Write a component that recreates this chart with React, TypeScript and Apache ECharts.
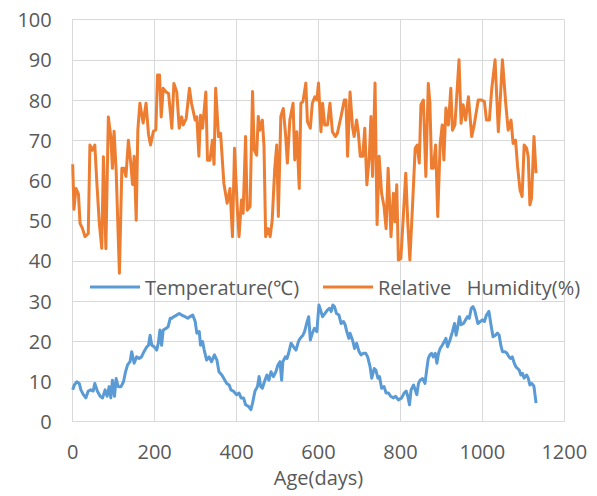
import React, { useEffect, useRef } from "react";
import * as echarts from "echarts";

const xTicks = [0, 200, 400, 600, 800, 1000, 1200];
const tempName = "Temperature(℃)";
const humName = "Relative   Humidity(%)";

const tempDays = [
  0, 4, 10, 16, 20, 26, 32, 38, 44, 50, 54, 60, 67, 73, 79, 84, 89, 93, 97, 102,
  106, 111, 118, 124, 129, 134, 140, 144, 150, 156, 162, 168, 174, 181, 185, 189,
  193, 199, 205, 209, 213, 217, 221, 228, 233, 238, 242, 247, 254, 260, 266, 274,
  281, 286, 293, 299, 303, 309, 312, 317, 321, 327, 333, 339, 346, 352, 357, 364,
  369, 376, 382, 386, 392, 400, 406, 411, 417, 422, 429, 435, 439, 445, 451, 455,
  459, 463, 468, 474, 479, 484, 490, 496, 501, 506, 510, 513, 519, 523, 527, 533,
  539, 545, 551, 555, 562, 566, 571, 576, 580, 585, 590, 596, 601, 606, 610, 616,
  622, 627, 631, 635, 639, 644, 650, 655, 661, 665, 669, 674, 677, 683, 688, 693,
  699, 704, 710, 715, 720, 726, 730, 736, 740, 745, 749, 754, 760, 765, 771, 776,
  783, 788, 795, 803, 809, 814, 818, 822, 826, 832, 836, 840, 844, 848, 854, 860,
  864, 868, 872, 876, 880, 885, 889, 893, 897, 902, 907, 911, 915, 921, 927, 932,
  936, 940, 944, 948, 954, 959, 964, 968, 973, 977, 981, 985, 989, 995, 1000, 1005,
  1010, 1016, 1021, 1026, 1032, 1037, 1041, 1045, 1049, 1055, 1060, 1065, 1069,
  1073, 1078, 1082, 1086, 1090, 1094, 1098, 1102, 1108, 1112, 1116, 1120, 1124,
  1126, 1131,
];
const tempValues = [
  7.9, 9.1, 9.9, 9.5, 7.9, 6.7, 5.9, 7.6, 7.9, 7.6, 9.5, 7.6, 6.3, 5.9, 7.9, 6.3,
  8.7, 5.9, 10.3, 6.3, 10.7, 8.7, 8.7, 9.9, 12.4, 14.1, 14.9, 17.4, 14.5, 16.1,
  15.7, 16.1, 17.4, 18.6, 19.0, 21.5, 19.0, 18.6, 17.8, 19.5, 22.8, 19.0, 22.8,
  23.2, 23.6, 25.7, 25.7, 26.1, 26.5, 26.9, 26.5, 26.1, 25.7, 26.1, 26.5, 24.9,
  22.0, 22.4, 19.0, 19.9, 17.8, 15.3, 16.1, 14.9, 16.6, 15.3, 12.4, 11.6, 10.7,
  9.5, 9.1, 7.9, 7.6, 6.7, 7.1, 5.9, 5.9, 4.2, 3.8, 3.0, 4.6, 7.6, 8.7, 11.2, 8.7,
  8.3, 9.9, 11.6, 10.3, 12.4, 11.2, 12.4, 14.1, 14.9, 10.3, 14.9, 16.1, 15.7, 17.0,
  19.5, 18.6, 17.8, 19.9, 20.7, 21.5, 22.4, 24.4, 26.1, 20.3, 22.0, 23.2, 22.4,
  29.0, 27.4, 26.1, 26.9, 27.8, 28.2, 27.4, 29.0, 28.6, 26.9, 26.5, 24.4, 24.9,
  24.1, 22.4, 20.7, 22.0, 20.3, 18.2, 19.5, 17.4, 16.6, 17.0, 17.0, 16.1, 13.6,
  10.8, 13.2, 12.8, 10.8, 11.2, 8.3, 8.7, 7.1, 7.1, 6.3, 5.9, 6.3, 5.4, 5.9, 7.1,
  7.6, 6.3, 4.2, 7.9, 9.1, 7.9, 6.7, 9.5, 10.3, 10.7, 9.5, 12.8, 15.7, 16.6, 17.0,
  16.1, 17.0, 14.5, 17.0, 18.2, 19.0, 19.9, 20.7, 18.6, 20.3, 22.4, 24.4, 21.5,
  23.6, 26.1, 24.1, 24.4, 25.3, 26.1, 25.7, 28.2, 28.6, 27.8, 26.1, 24.4, 24.9,
  25.3, 24.9, 26.5, 27.4, 24.1, 21.1, 21.5, 22.0, 21.5, 19.0, 17.4, 17.4, 17.0,
  16.1, 15.7, 16.1, 14.5, 13.6, 13.2, 12.8, 11.6, 12.0, 10.8, 11.6, 10.8, 9.1, 9.5,
  9.1, 8.7, 4.6,
];

const humDays = [
  0, 3, 8, 14, 18, 24, 30, 38, 42, 48, 54, 59, 65, 71, 75, 81, 87, 93, 97, 101,
  106, 114, 120, 125, 130, 136, 142, 146, 150, 155, 159, 164, 172, 179, 185, 190,
  197, 203, 207, 212, 216, 221, 228, 234, 242, 247, 254, 260, 266, 270, 277, 285,
  290, 299, 303, 308, 312, 317, 325, 329, 335, 341, 345, 349, 356, 361, 369, 377,
  384, 390, 395, 402, 406, 412, 416, 422, 426, 433, 439, 443, 449, 453, 457, 463,
  467, 471, 477, 482, 487, 493, 498, 502, 508, 514, 520, 524, 530, 538, 542, 547,
  553, 557, 562, 569, 573, 580, 585, 591, 596, 600, 606, 610, 615, 622, 628, 634,
  641, 646, 655, 663, 667, 671, 677, 683, 687, 693, 697, 702, 708, 713, 718, 724,
  728, 732, 738, 743, 748, 754, 760, 765, 770, 777, 783, 787, 791, 795, 801, 807,
  813, 818, 823, 829, 836, 841, 846, 850, 856, 862, 868, 872, 876, 880, 886, 891,
  897, 902, 906, 911, 917, 923, 927, 933, 943, 948, 953, 959, 966, 974, 980, 990,
  998, 1005, 1010, 1017, 1023, 1031, 1039, 1045, 1049, 1057, 1063, 1070, 1075,
  1081, 1086, 1092, 1097, 1102, 1108, 1112, 1116, 1120, 1126, 1131,
];
const humValues = [
  64.0, 52.8, 58.0, 56.6, 49.3, 48.0, 46.0, 46.8, 68.8, 67.5, 68.8, 59.3, 49.3,
  43.1, 65.9, 43.0, 75.8, 70.9, 63.0, 72.2, 62.6, 36.9, 63.0, 63.0, 61.0, 70.0,
  64.0, 59.0, 66.0, 50.1, 72.5, 79.2, 74.3, 79.2, 71.5, 68.8, 72.2, 72.6, 86.2,
  86.2, 75.8, 82.9, 82.0, 81.6, 73.0, 84.1, 82.0, 73.0, 75.8, 73.8, 75.4, 82.9,
  79.2, 75.0, 75.8, 66.0, 76.2, 73.0, 82.0, 65.0, 65.0, 70.0, 64.0, 82.9, 70.9,
  71.7, 59.3, 54.3, 58.0, 46.0, 68.0, 52.6, 46.0, 55.1, 51.8, 70.9, 52.6, 53.5,
  82.1, 67.6, 66.3, 75.9, 72.5, 75.0, 68.4, 46.0, 48.0, 46.0, 50.1, 62.6, 68.8,
  51.0, 75.9, 77.9, 70.9, 64.3, 75.0, 79.2, 65.1, 72.1, 58.0, 79.2, 79.6, 84.2,
  74.6, 73.0, 79.2, 80.8, 80.0, 84.2, 72.1, 79.2, 73.8, 73.8, 79.2, 72.1, 70.9,
  71.7, 75.9, 80.0, 80.0, 66.0, 82.0, 73.3, 70.9, 75.0, 72.1, 66.0, 66.0, 73.0,
  58.9, 66.0, 75.9, 61.0, 84.2, 49.0, 66.0, 56.8, 53.5, 48.0, 63.0, 46.0, 56.8,
  49.7, 58.9, 40.2, 40.6, 51.0, 61.8, 49.3, 40.2, 52.6, 68.0, 68.8, 64.3, 78.8,
  80.0, 61.0, 84.1, 79.2, 63.0, 63.0, 68.8, 51.0, 69.2, 73.8, 65.1, 78.0, 73.8,
  82.9, 72.5, 73.8, 90.0, 74.2, 78.8, 75.0, 80.8, 70.9, 73.8, 80.0, 80.0, 79.6,
  75.0, 75.0, 82.9, 90.0, 72.1, 82.5, 90.0, 79.2, 72.5, 75.0, 69.2, 70.0, 63.4,
  57.6, 56.0, 68.8, 68.0, 65.9, 53.9, 55.6, 70.9, 61.8,
];

const FONT = "Open Sans";
const FS = 20;
const TEXT = "#595959";
const GRID = "#d9d9d9";

export default function App() {
  const ref = useRef<HTMLDivElement>(null);
  useEffect(() => {
    if (!ref.current) return;
    const chart = echarts.init(ref.current, undefined, { renderer: "svg" });
    const tempData = tempDays.map((d, i) => [d, tempValues[i]]);
    const humData = humDays.map((d, i) => [d, humValues[i]]);
    const legendBase = {
      orient: "horizontal" as const,
      top: 277,
      padding: 0,
      icon: "rect",
      itemWidth: 50,
      itemHeight: 3,
      itemGap: 5,
      textStyle: { fontFamily: FONT, fontSize: FS, color: TEXT, padding: [0, 0, 0, 0] },
    };
    chart.setOption({
      animation: false,
      backgroundColor: "#ffffff",
      grid: { left: 72.7, right: 32.7, top: 19.6, bottom: 74.4, containLabel: false },
      legend: [
        { ...legendBase, left: 90, data: [tempName] },
        { ...legendBase, left: 323, data: [humName] },
      ],
      xAxis: {
        type: "value",
        min: xTicks[0],
        max: xTicks[xTicks.length - 1],
        interval: 200,
        name: "Age(days)",
        nameLocation: "middle",
        nameGap: 46,
        nameTextStyle: { fontFamily: FONT, fontSize: FS, color: TEXT },
        axisLine: { show: true, lineStyle: { color: GRID, width: 1 } },
        axisTick: { show: false },
        axisLabel: {
          fontFamily: FONT,
          fontSize: FS,
          color: TEXT,
          margin: 20,
          formatter: (v: number) => String(v),
        },
        splitLine: { show: true, lineStyle: { color: GRID, width: 1 } },
      },
      yAxis: {
        type: "value",
        min: 0,
        max: 100,
        interval: 10,
        axisLine: { show: true, lineStyle: { color: GRID, width: 1 } },
        axisTick: { show: false },
        axisLabel: {
          fontFamily: FONT,
          fontSize: FS,
          color: TEXT,
          margin: 21,
          formatter: (v: number) => String(v),
        },
        splitLine: { show: true, lineStyle: { color: GRID, width: 1 } },
      },
      series: [
        {
          name: tempName,
          type: "line",
          data: tempData,
          showSymbol: false,
          symbol: "none",
          lineStyle: { color: "#5B9BD5", width: 3, join: "round" },
          itemStyle: { color: "#5B9BD5" },
        },
        {
          name: humName,
          type: "line",
          data: humData,
          showSymbol: false,
          symbol: "none",
          lineStyle: { color: "#ED7D31", width: 3, join: "round" },
          itemStyle: { color: "#ED7D31" },
        },
      ],
    });
    return () => chart.dispose();
  }, []);
  return (
    <div
      ref={ref}
      style={{ position: "fixed", left: 0, top: 0, width: 597, height: 496, background: "#fff" }}
    />
  );
}
